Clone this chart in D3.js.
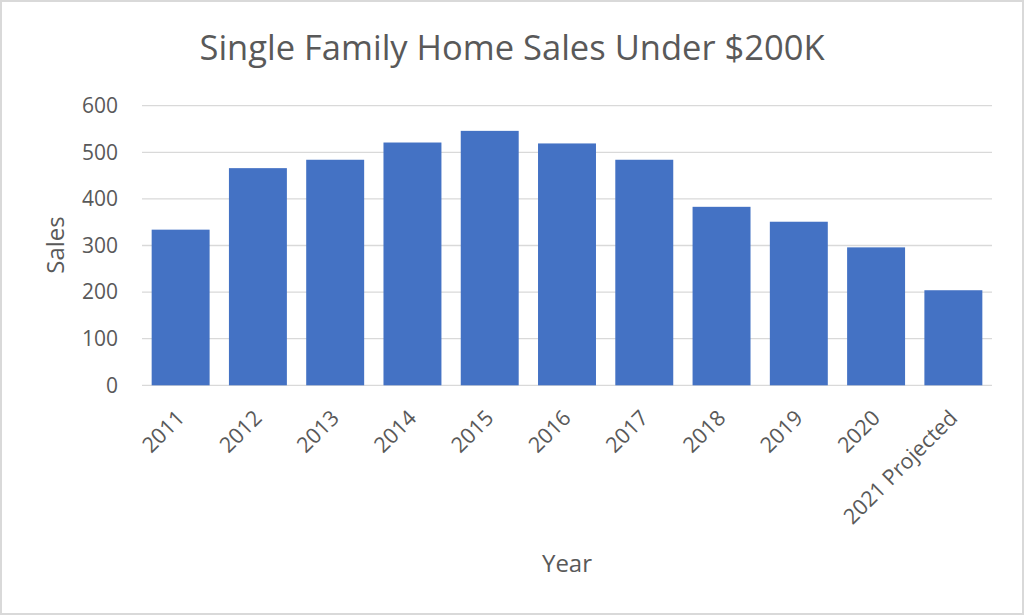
<!DOCTYPE html>
<html>
<head>
<meta charset="utf-8">
<script src="https://cdn.jsdelivr.net/npm/d3@7"></script>
<style>
  body { margin: 0; background: #fff; }
  svg { display: block; font-family: "Open Sans", sans-serif; }
</style>
</head>
<body>
<div class="chart"></div>
<script>
var years = ["2011", "2012", "2013", "2014", "2015", "2016", "2017", "2018", "2019", "2020", "2021 Projected"]
var sales = [334, 466, 484, 521, 546, 519, 484, 383, 351, 296, 204]
var yTicks = [0, 100, 200, 300, 400, 500, 600]

var width = 1024
var height = 615
var textColor = "#595959"
var gridColor = "#d9d9d9"

var svg = d3.select(".chart").append("svg").attr("width", width).attr("height", height)

// outer border
svg.append("rect").attr("x", 1).attr("y", 1).attr("width", width - 2).attr("height", height - 2)
    .attr("fill", "#fff").attr("stroke", gridColor).attr("stroke-width", 2)

var x = d3.scaleBand().domain(years).range([142, 992]).paddingInner(0.25).paddingOuter(0.125)
var y = d3.scaleLinear().domain([0, 600]).range([385.3, 105.7])

// gridlines
svg.append("g").selectAll("line").data(yTicks).enter().append("line")
    .attr("x1", 142).attr("x2", 992)
    .attr("y1", function(d){ return y(d) }).attr("y2", function(d){ return y(d) })
    .attr("stroke", gridColor).attr("stroke-width", 1.3)

// y axis labels
var yAxis = d3.axisLeft(y).tickValues(yTicks).tickSize(0).tickPadding(0)
var yg = svg.append("g").attr("transform", "translate(118,0)").call(yAxis)
yg.select(".domain").remove()
yg.selectAll("text").attr("font-family", "Open Sans").attr("font-size", "21px").attr("fill", textColor)

// bars
svg.append("g").selectAll("rect").data(sales).enter().append("rect")
    .attr("x", function(d, i){ return x(years[i]) })
    .attr("y", function(d){ return y(d) })
    .attr("width", x.bandwidth())
    .attr("height", function(d){ return y(0) - y(d) })
    .attr("fill", "#4472c4")

// x axis labels, rotated
svg.append("g").selectAll("text").data(years).enter().append("text")
    .attr("transform", function(d){
        return "translate(" + (x(d) + x.bandwidth() / 2) + ",414) rotate(-45)"
    })
    .attr("dy", "0.35em")
    .attr("text-anchor", "end")
    .attr("font-size", "21.5px")
    .attr("fill", textColor)
    .text(function(d){ return d })

// title and axis titles
svg.append("text").attr("x", 512).attr("y", 60).attr("text-anchor", "middle")
    .attr("font-size", "34.5px").attr("fill", textColor)
    .text("Single Family Home Sales Under $200K")

svg.append("text").attr("transform", "translate(64,245) rotate(-90)").attr("text-anchor", "middle")
    .attr("font-size", "24px").attr("fill", textColor)
    .text("Sales")

svg.append("text").attr("x", 567).attr("y", 572).attr("text-anchor", "middle")
    .attr("font-size", "24px").attr("fill", textColor)
    .text("Year")
</script>
</body>
</html>
